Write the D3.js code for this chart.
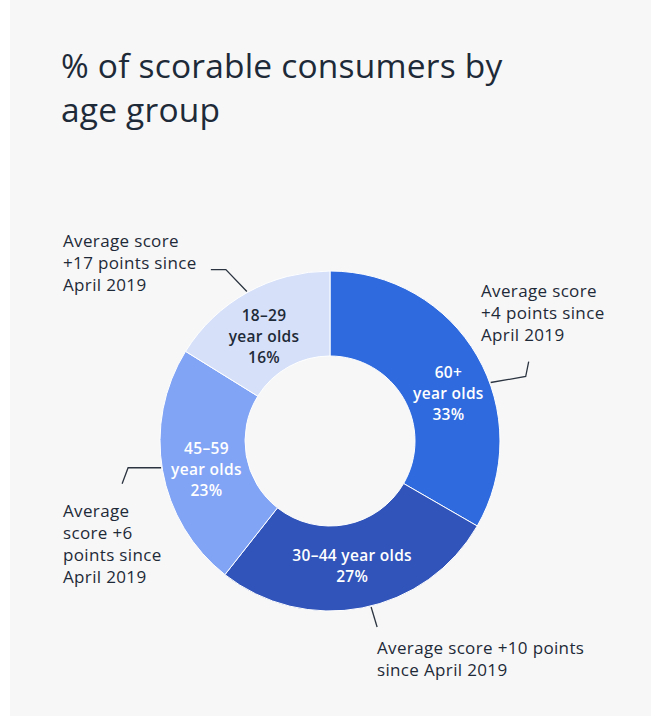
<!DOCTYPE html>
<html>
<head>
<meta charset="utf-8">
<script src="https://cdn.jsdelivr.net/npm/d3@7"></script>
<style>
  body { margin: 0; background: #ffffff; }
  svg { display: block; font-family: "Open Sans", Lato, sans-serif; }
  .title { font-size: 33.5px; fill: #1e2a38; letter-spacing: 0.2px; }
  .note { font-size: 17px; fill: #1e2a38; letter-spacing: 0.35px; }
  .slice-label { font-size: 15.5px; font-weight: 600; text-anchor: middle; letter-spacing: 0.3px; }
  .leader { fill: none; stroke: #2b3440; stroke-width: 1.3; }
</style>
</head>
<body>
<div id="chart"></div>
<script>
// Age groups, share of scorable consumers (%)
const groups = ["60+", "30–44", "45–59", "18–29"];
const shares = [33, 27, 23, 16];
const sliceLabels = [
  ["60+", "year olds", "33%"],
  ["30–44 year olds", "27%"],
  ["45–59", "year olds", "23%"],
  ["18–29", "year olds", "16%"],
];
const notes = [
  ["Average score", "+4 points since", "April 2019"],
  ["Average score +10 points", "since April 2019"],
  ["Average", "score +6", "points since", "April 2019"],
  ["Average score", "+17 points since", "April 2019"],
];
const titleLines = ["% of scorable consumers by", "age group"];

const W = 658, H = 718;
const cx = 330, cy = 441, R = 170, r = 85;
const colors = ["#2f6bde", "#3054ba", "#82a4f5", "#d6e1f9"];
const labelColors = ["#ffffff", "#ffffff", "#ffffff", "#1e2a38"];

// label nudges from the centroid, and leader line geometry per slice
const labelNudge = [[8, 16], [-2, -1], [2, 6], [-4, 6]];
const leader = [
  { da: 10, segs: [[35, -6], [3, -15]] },
  { da: -3, segs: [[6, 20]] },
  { da: 1, segs: [[-33, 0], [-6, 16]] },
  { da: 0, segs: [[-21, -22], [-15, 0]] },
];
const notePos = [[481, 297], [377, 654], [63, 517], [63, 247]];
const LINE_H = 22;

const svg = d3.select("#chart").append("svg")
  .attr("width", W).attr("height", H);

svg.append("rect")
  .attr("x", 10).attr("y", 0)
  .attr("width", 641).attr("height", 716)
  .attr("fill", "#f7f7f7");

svg.append("g").selectAll("text")
  .data(titleLines)
  .join("text")
  .attr("class", "title")
  .attr("x", 61)
  .attr("y", (d, i) => 78 + i * 44)
  .text((d) => d);

const data = groups.map((g, i) => ({ group: g, value: shares[i], i }));
const pie = d3.pie().sort(null).value((d) => d.value);
const arcs = pie(data);

const arc = d3.arc().innerRadius(r).outerRadius(R);

const g = svg.append("g").attr("transform", `translate(${cx},${cy})`);

g.selectAll("path")
  .data(arcs)
  .join("path")
  .attr("d", arc)
  .attr("fill", (d) => colors[d.index])
  .attr("stroke", "#ffffff")
  .attr("stroke-width", 1);

const lbl = g.selectAll("text.slice-label")
  .data(arcs)
  .join("text")
  .attr("class", "slice-label")
  .attr("fill", (d) => labelColors[d.index])
  .attr("transform", (d) => {
    const [x, y] = arc.centroid(d);
    const [nx, ny] = labelNudge[d.index];
    return `translate(${x + nx},${y + ny})`;
  });

lbl.selectAll("tspan")
  .data((d) => sliceLabels[d.index].map((t, j, a) => ({ t, j, n: a.length })))
  .join("tspan")
  .attr("x", 0)
  .attr("y", (d) => (d.j - (d.n - 1) / 2) * 21 + 6)
  .text((d) => d.t);

// leader lines from the outer edge to each note
const polar = (a, rad) => [rad * Math.sin(a), -rad * Math.cos(a)];
g.selectAll("path.leader")
  .data(arcs)
  .join("path")
  .attr("class", "leader")
  .attr("d", (d) => {
    const l = leader[d.index];
    const a = (d.startAngle + d.endAngle) / 2 + (l.da * Math.PI) / 180;
    let p = polar(a, R + 1);
    const pts = [p];
    l.segs.forEach(([dx, dy]) => {
      p = [p[0] + dx, p[1] + dy];
      pts.push(p);
    });
    return d3.line()(pts);
  });

const nt = svg.append("g").selectAll("text")
  .data(arcs)
  .join("text")
  .attr("class", "note");

nt.selectAll("tspan")
  .data((d) => notes[d.index].map((t, j) => ({ t, j, x: notePos[d.index][0], y: notePos[d.index][1] })))
  .join("tspan")
  .attr("x", (d) => d.x)
  .attr("y", (d) => d.y + d.j * LINE_H)
  .text((d) => d.t);
</script>
</body>
</html>
